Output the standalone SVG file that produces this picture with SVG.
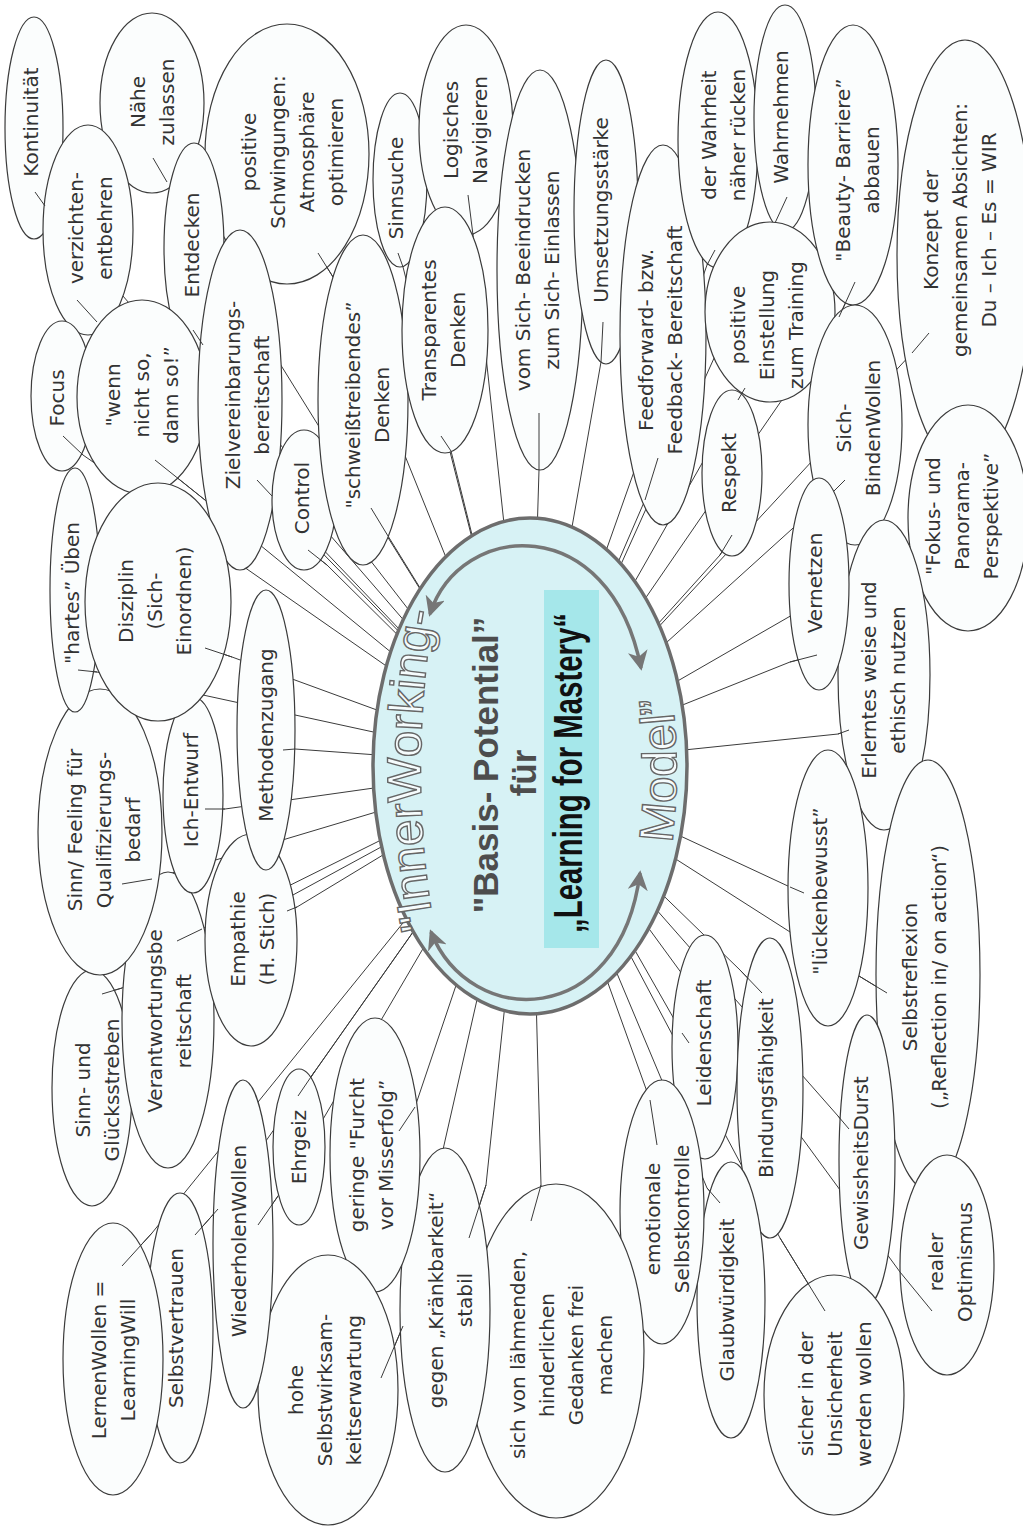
<svg xmlns="http://www.w3.org/2000/svg" width="1023" height="1531" viewBox="0 0 1023 1531">
<defs>
<style>
.n ellipse{fill:#fbfdfd;stroke:#3b3b3b;stroke-width:1.2}
.n text{font-family:"DejaVu Sans","Noto Sans",sans-serif;font-size:20px;fill:#333;text-anchor:middle}
#connectors polyline{stroke:#3b3b3b;stroke-width:1;fill:none}
#connector-ends line{stroke:#3b3b3b;stroke-width:1}
.hub{fill:#d7f2f5;stroke:#6d6d6d;stroke-width:3.5}
.outline{font-family:"Liberation Sans",Arial,sans-serif;font-size:48px;fill:#f6fcfd;stroke:#666;stroke-width:1.4;text-anchor:middle}
.bold{font-family:"Liberation Sans",Arial,sans-serif;font-weight:bold;text-anchor:middle}
.arrow{fill:none;stroke:#767676;stroke-width:3.5;marker-start:url(#head);marker-end:url(#head)}
</style>
<marker id="head" viewBox="0 0 14 14" refX="12" refY="7" markerWidth="20" markerHeight="20" markerUnits="userSpaceOnUse" orient="auto-start-reverse">
<path d="M0,0 L14,7 L0,14 L4,7 Z" fill="#767676"/>
</marker>
<path id="arcL" d="M 440,955 A 112,330 0 0,1 440,585" fill="none"/>
<path id="arcR" d="M 662,900 A 146,300 0 0,0 662,640" fill="none"/>
</defs>
<rect width="1023" height="1531" fill="#ffffff"/>

<!-- connectors: each runs from inside its node to the hub centre -->
<g id="connectors">
<polyline points="35,192 45,206 530,766"/>
<polyline points="153,158 167,182 530,766"/>
<polyline points="318,253 333,277 530,766"/>
<polyline points="77,300 97,322 530,766"/>
<polyline points="193,330 203,345 530,766"/>
<polyline points="63,436 83,455 530,766"/>
<polyline points="155,460 205,500 530,766"/>
<polyline points="257,480 272,496 530,766"/>
<polyline points="308,550 327,565 530,766"/>
<polyline points="371,508 388,536 530,766"/>
<polyline points="398,253 403,267 530,766"/>
<polyline points="468,195 473,235 530,766"/>
<polyline points="441,436 451,451 530,766"/>
<polyline points="539,413 539,470 530,766"/>
<polyline points="603,322 601,362 530,766"/>
<polyline points="658,458 645,500 530,766"/>
<polyline points="715,250 707,265 530,766"/>
<polyline points="787,197 775,223 530,766"/>
<polyline points="745,388 738,400 530,766"/>
<polyline points="855,282 839,317 530,766"/>
<polyline points="929,333 912,353 530,766"/>
<polyline points="845,480 834,491 530,766"/>
<polyline points="732,535 720,555 530,766"/>
<polyline points="912,545 905,550 530,766"/>
<polyline points="817,655 790,662 530,766"/>
<polyline points="849,730 838,734 530,766"/>
<polyline points="804,893 790,887 530,766"/>
<polyline points="887,993 859,976 530,766"/>
<polyline points="689,1043 682,1033 530,766"/>
<polyline points="762,993 740,970 530,766"/>
<polyline points="849,1129 838,1116 530,766"/>
<polyline points="932,1311 900,1272 530,766"/>
<polyline points="825,1311 780,1238 530,766"/>
<polyline points="720,1203 707,1188 530,766"/>
<polyline points="657,1145 650,1100 530,766"/>
<polyline points="531,1221 541,1185 530,766"/>
<polyline points="469,1238 486,1185 530,766"/>
<polyline points="399,1131 415,1107 530,766"/>
<polyline points="381,1378 403,1326 530,766"/>
<polyline points="298,1096 315,1071 530,766"/>
<polyline points="258,1225 278,1196 530,766"/>
<polyline points="195,1235 218,1209 530,766"/>
<polyline points="122,1266 152,1233 530,766"/>
<polyline points="102,994 122,988 530,766"/>
<polyline points="177,941 202,929 530,766"/>
<polyline points="122,884 152,879 530,766"/>
<polyline points="205,809 225,809 530,766"/>
<polyline points="287,911 297,907 530,766"/>
<polyline points="283,750 295,749 530,766"/>
<polyline points="205,648 232,657 530,766"/>
<polyline points="78,670 97,672 530,766"/>
</g>

<!-- hub -->
<g id="hub">
<ellipse class="hub" cx="530" cy="766" rx="157" ry="248"/>
<rect x="544" y="590" width="55" height="358" fill="#a5e7ea"/>
<text class="outline"><textPath href="#arcL" startOffset="50%">"InnerWorking-</textPath></text>
<text class="outline"><textPath href="#arcR" startOffset="50%">Model”</textPath></text>
<text class="bold" font-size="35" fill="#4d4d4d" transform="translate(498,765) rotate(-90)">"Basis- Potential”</text>
<text class="bold" font-size="35" fill="#4d4d4d" transform="translate(536,773) rotate(-90)">für</text>
<text class="bold" font-size="40" fill="#111" transform="translate(582,773) rotate(-90)" textLength="320" lengthAdjust="spacingAndGlyphs">„Learning for Mastery“</text>
<path class="arrow" d="M 430,614 C 460,520 610,510 641,668"/>
<path class="arrow" d="M 431,932 C 470,1030 620,1030 640,873"/>
</g>

<!-- nodes -->
<g id="kontinuitaet" class="n"><ellipse cx="34" cy="128" rx="29" ry="111"/><text transform="translate(31,122) rotate(-90)"><tspan x="0" y="7">Kontinuität</tspan></text></g>
<g id="naehe" class="n"><ellipse cx="152" cy="103" rx="52" ry="90"/><text transform="translate(152,102) rotate(-90)"><tspan x="0" y="-7.5">Nähe</tspan><tspan x="0" y="21.5">zulassen</tspan></text></g>
<g id="schwingungen" class="n"><ellipse cx="287" cy="154" rx="82" ry="130"/><text transform="translate(292,152) rotate(-90)"><tspan x="0" y="-36.5">positive</tspan><tspan x="0" y="-7.5">Schwingungen:</tspan><tspan x="0" y="21.5">Atmosphäre</tspan><tspan x="0" y="50.5">optimieren</tspan></text></g>
<g id="verzichten" class="n"><ellipse cx="88" cy="230" rx="45" ry="105"/><text transform="translate(90,228) rotate(-90)"><tspan x="0" y="-7.5">verzichten-</tspan><tspan x="0" y="21.5">entbehren</tspan></text></g>
<g id="entdecken" class="n"><ellipse cx="194" cy="248" rx="30" ry="105"/><text transform="translate(192,245) rotate(-90)"><tspan x="0" y="7">Entdecken</tspan></text></g>
<g id="focus" class="n"><ellipse cx="62" cy="396" rx="31" ry="75"/><text transform="translate(57,398) rotate(-90)"><tspan x="0" y="7">Focus</tspan></text></g>
<g id="wenn" class="n"><ellipse cx="142" cy="397" rx="65" ry="97"/><text transform="translate(142,395) rotate(-90)"><tspan x="0" y="-22">"wenn</tspan><tspan x="0" y="7">nicht so,</tspan><tspan x="0" y="36">dann so!”</tspan></text></g>
<g id="ziel" class="n"><ellipse cx="240" cy="400" rx="42" ry="170"/><text transform="translate(247,395) rotate(-90)"><tspan x="0" y="-7.5">Zielvereinbarungs-</tspan><tspan x="0" y="21.5">bereitschaft</tspan></text></g>
<g id="control" class="n"><ellipse cx="304" cy="500" rx="32" ry="70"/><text transform="translate(302,498) rotate(-90)"><tspan x="0" y="7">Control</tspan></text></g>
<g id="schweiss" class="n"><ellipse cx="363" cy="400" rx="45" ry="165"/><text transform="translate(367,405) rotate(-90)"><tspan x="0" y="-7.5">"schweißtreibendes”</tspan><tspan x="0" y="21.5">Denken</tspan></text></g>
<g id="sinnsuche" class="n"><ellipse cx="400" cy="180" rx="27" ry="87"/><text transform="translate(396,188) rotate(-90)"><tspan x="0" y="7">Sinnsuche</tspan></text></g>
<g id="logisches" class="n"><ellipse cx="466" cy="130" rx="47" ry="105"/><text transform="translate(465,130) rotate(-90)"><tspan x="0" y="-7.5">Logisches</tspan><tspan x="0" y="21.5">Navigieren</tspan></text></g>
<g id="transparentes" class="n"><ellipse cx="445" cy="330" rx="43" ry="123"/><text transform="translate(443,330) rotate(-90)"><tspan x="0" y="-7.5">Transparentes</tspan><tspan x="0" y="21.5">Denken</tspan></text></g>
<g id="vomsich" class="n"><ellipse cx="540" cy="270" rx="43" ry="200"/><text transform="translate(537,270) rotate(-90)"><tspan x="0" y="-7.5">vom Sich- Beeindrucken</tspan><tspan x="0" y="21.5">zum Sich- Einlassen</tspan></text></g>
<g id="umsetzung" class="n"><ellipse cx="606" cy="212" rx="32" ry="152"/><text transform="translate(601,210) rotate(-90)"><tspan x="0" y="7">Umsetzungsstärke</tspan></text></g>
<g id="feedforward" class="n"><ellipse cx="663" cy="335" rx="43" ry="190"/><text transform="translate(660,340) rotate(-90)"><tspan x="0" y="-7.5">Feedforward- bzw.</tspan><tspan x="0" y="21.5">Feedback- Bereitschaft</tspan></text></g>
<g id="wahrheit" class="n"><ellipse cx="718" cy="140" rx="40" ry="128"/><text transform="translate(723,135) rotate(-90)"><tspan x="0" y="-7.5">der Wahrheit</tspan><tspan x="0" y="21.5">näher rücken</tspan></text></g>
<g id="wahrnehmen" class="n"><ellipse cx="785" cy="118" rx="31" ry="113"/><text transform="translate(781,117) rotate(-90)"><tspan x="0" y="7">Wahrnehmen</tspan></text></g>
<g id="einstellung" class="n"><ellipse cx="770" cy="312" rx="65" ry="90"/><text transform="translate(767,325) rotate(-90)"><tspan x="0" y="-22">positive</tspan><tspan x="0" y="7">Einstellung</tspan><tspan x="0" y="36">zum Training</tspan></text></g>
<g id="beauty" class="n"><ellipse cx="853" cy="165" rx="45" ry="140"/><text transform="translate(857,170) rotate(-90)"><tspan x="0" y="-7.5">"Beauty- Barriere”</tspan><tspan x="0" y="21.5">abbauen</tspan></text></g>
<g id="konzept" class="n"><ellipse cx="965" cy="255" rx="68" ry="215"/><text transform="translate(960,230) rotate(-90)"><tspan x="0" y="-22">Konzept der</tspan><tspan x="0" y="7">gemeinsamen Absichten:</tspan><tspan x="0" y="36">Du – Ich – Es = WIR</tspan></text></g>
<g id="sichbinden" class="n"><ellipse cx="855" cy="425" rx="47" ry="120"/><text transform="translate(858,428) rotate(-90)"><tspan x="0" y="-7.5">Sich-</tspan><tspan x="0" y="21.5">BindenWollen</tspan></text></g>
<g id="respekt" class="n"><ellipse cx="732" cy="473" rx="30" ry="83"/><text transform="translate(729,473) rotate(-90)"><tspan x="0" y="7">Respekt</tspan></text></g>
<g id="fokus" class="n"><ellipse cx="968" cy="518" rx="60" ry="113"/><text transform="translate(962,516) rotate(-90)"><tspan x="0" y="-22">"Fokus- und</tspan><tspan x="0" y="7">Panorama-</tspan><tspan x="0" y="36">Perspektive”</tspan></text></g>
<g id="erlerntes" class="n"><ellipse cx="884" cy="675" rx="46" ry="155"/><text transform="translate(883,680) rotate(-90)"><tspan x="0" y="-7.5">Erlerntes weise und</tspan><tspan x="0" y="21.5">ethisch nutzen</tspan></text></g>
<g id="vernetzen" class="n"><ellipse cx="819" cy="584" rx="30" ry="106"/><text transform="translate(815,583) rotate(-90)"><tspan x="0" y="7">Vernetzen</tspan></text></g>
<g id="lueckenbewusst" class="n"><ellipse cx="828" cy="888" rx="40" ry="138"/><text transform="translate(820,891) rotate(-90)"><tspan x="0" y="7">"lückenbewusst”</tspan></text></g>
<g id="selbstreflexion" class="n"><ellipse cx="928" cy="975" rx="52" ry="215"/><text transform="translate(924,977) rotate(-90)"><tspan x="0" y="-7.5">Selbstreflexion</tspan><tspan x="0" y="21.5">(„Reflection in/ on action“)</tspan></text></g>
<g id="leidenschaft" class="n"><ellipse cx="705" cy="1047" rx="33" ry="112"/><text transform="translate(704,1043) rotate(-90)"><tspan x="0" y="7">Leidenschaft</tspan></text></g>
<g id="bindung" class="n"><ellipse cx="770" cy="1088" rx="33" ry="150"/><text transform="translate(766,1088) rotate(-90)"><tspan x="0" y="7">Bindungsfähigkeit</tspan></text></g>
<g id="gewissheit" class="n"><ellipse cx="867" cy="1160" rx="28" ry="145"/><text transform="translate(861,1163) rotate(-90)"><tspan x="0" y="7">GewissheitsDurst</tspan></text></g>
<g id="optimismus" class="n"><ellipse cx="947" cy="1265" rx="47" ry="110"/><text transform="translate(950,1262) rotate(-90)"><tspan x="0" y="-7.5">realer</tspan><tspan x="0" y="21.5">Optimismus</tspan></text></g>
<g id="sicher" class="n"><ellipse cx="834" cy="1395" rx="70" ry="120"/><text transform="translate(835,1394) rotate(-90)"><tspan x="0" y="-22">sicher in der</tspan><tspan x="0" y="7">Unsicherheit</tspan><tspan x="0" y="36">werden wollen</tspan></text></g>
<g id="glaub" class="n"><ellipse cx="731" cy="1300" rx="34" ry="138"/><text transform="translate(727,1300) rotate(-90)"><tspan x="0" y="7">Glaubwürdigkeit</tspan></text></g>
<g id="emotionale" class="n"><ellipse cx="662" cy="1212" rx="42" ry="132"/><text transform="translate(667,1219) rotate(-90)"><tspan x="0" y="-7.5">emotionale</tspan><tspan x="0" y="21.5">Selbstkontrolle</tspan></text></g>
<g id="laehmend" class="n"><ellipse cx="556" cy="1351" rx="88" ry="167"/><text transform="translate(561,1355) rotate(-90)"><tspan x="0" y="-36.5">sich von lähmenden,</tspan><tspan x="0" y="-7.5">hinderlichen</tspan><tspan x="0" y="21.5">Gedanken frei</tspan><tspan x="0" y="50.5">machen</tspan></text></g>
<g id="kraenk" class="n"><ellipse cx="445" cy="1310" rx="45" ry="162"/><text transform="translate(450,1300) rotate(-90)"><tspan x="0" y="-7.5">gegen „Kränkbarkeit“</tspan><tspan x="0" y="21.5">stabil</tspan></text></g>
<g id="furcht" class="n"><ellipse cx="375" cy="1155" rx="45" ry="137"/><text transform="translate(371,1155) rotate(-90)"><tspan x="0" y="-7.5">geringe "Furcht</tspan><tspan x="0" y="21.5">vor Misserfolg”</tspan></text></g>
<g id="hohe" class="n"><ellipse cx="328" cy="1390" rx="70" ry="135"/><text transform="translate(325,1390) rotate(-90)"><tspan x="0" y="-22">hohe</tspan><tspan x="0" y="7">Selbstwirksam-</tspan><tspan x="0" y="36">keitserwartung</tspan></text></g>
<g id="ehrgeiz" class="n"><ellipse cx="299" cy="1147" rx="26" ry="78"/><text transform="translate(299,1147) rotate(-90)"><tspan x="0" y="7">Ehrgeiz</tspan></text></g>
<g id="wiederholen" class="n"><ellipse cx="243" cy="1244" rx="30" ry="164"/><text transform="translate(239,1241) rotate(-90)"><tspan x="0" y="7">WiederholenWollen</tspan></text></g>
<g id="selbstvertrauen" class="n"><ellipse cx="180" cy="1328" rx="33" ry="135"/><text transform="translate(176,1328) rotate(-90)"><tspan x="0" y="7">Selbstvertrauen</tspan></text></g>
<g id="lernenwollen" class="n"><ellipse cx="113" cy="1359" rx="50" ry="136"/><text transform="translate(113,1360) rotate(-90)"><tspan x="0" y="-7.5">LernenWollen =</tspan><tspan x="0" y="21.5">LearningWill</tspan></text></g>
<g id="gluecks" class="n"><ellipse cx="92" cy="1088" rx="40" ry="118"/><text transform="translate(97,1090) rotate(-90)"><tspan x="0" y="-7.5">Sinn- und</tspan><tspan x="0" y="21.5">Glücksstreben</tspan></text></g>
<g id="verantwortung" class="n"><ellipse cx="168" cy="1020" rx="46" ry="148"/><text transform="translate(169,1021) rotate(-90)"><tspan x="0" y="-7.5">Verantwortungsbe</tspan><tspan x="0" y="21.5">reitschaft</tspan></text></g>
<g id="sinnfeeling" class="n"><ellipse cx="100" cy="832" rx="62" ry="143"/><text transform="translate(104,830) rotate(-90)"><tspan x="0" y="-22">Sinn/ Feeling für</tspan><tspan x="0" y="7">Qualifizierungs-</tspan><tspan x="0" y="36">bedarf</tspan></text></g>
<g id="ichentwurf" class="n"><ellipse cx="193" cy="795" rx="30" ry="98"/><text transform="translate(191,790) rotate(-90)"><tspan x="0" y="7">Ich-Entwurf</tspan></text></g>
<g id="empathie" class="n"><ellipse cx="251" cy="940" rx="46" ry="106"/><text transform="translate(252,939) rotate(-90)"><tspan x="0" y="-7.5">Empathie</tspan><tspan x="0" y="21.5">(H. Stich)</tspan></text></g>
<g id="methoden" class="n"><ellipse cx="266" cy="730" rx="29" ry="140"/><text transform="translate(266,735) rotate(-90)"><tspan x="0" y="7">Methodenzugang</tspan></text></g>
<g id="hartes" class="n"><ellipse cx="75" cy="590" rx="25" ry="122"/><text transform="translate(72,593) rotate(-90)"><tspan x="0" y="7">"hartes” Üben</tspan></text></g>
<g id="disziplin" class="n"><ellipse cx="158" cy="602" rx="73" ry="119"/><text transform="translate(155,601) rotate(-90)"><tspan x="0" y="-22">Disziplin</tspan><tspan x="0" y="7">(Sich-</tspan><tspan x="0" y="36">Einordnen)</tspan></text></g>

<!-- the start of each connector, shown inside its own node -->
<g id="connector-ends">
<line x1="35" y1="192" x2="45" y2="206"/>
<line x1="153" y1="158" x2="167" y2="182"/>
<line x1="318" y1="253" x2="333" y2="277"/>
<line x1="77" y1="300" x2="97" y2="322"/>
<line x1="193" y1="330" x2="203" y2="345"/>
<line x1="63" y1="436" x2="83" y2="455"/>
<line x1="155" y1="460" x2="205" y2="500"/>
<line x1="257" y1="480" x2="272" y2="496"/>
<line x1="308" y1="550" x2="327" y2="565"/>
<line x1="371" y1="508" x2="388" y2="536"/>
<line x1="398" y1="253" x2="403" y2="267"/>
<line x1="468" y1="195" x2="473" y2="235"/>
<line x1="441" y1="436" x2="451" y2="451"/>
<line x1="539" y1="413" x2="539" y2="470"/>
<line x1="603" y1="322" x2="601" y2="362"/>
<line x1="658" y1="458" x2="645" y2="500"/>
<line x1="715" y1="250" x2="707" y2="265"/>
<line x1="787" y1="197" x2="775" y2="223"/>
<line x1="745" y1="388" x2="738" y2="400"/>
<line x1="855" y1="282" x2="839" y2="317"/>
<line x1="929" y1="333" x2="912" y2="353"/>
<line x1="845" y1="480" x2="834" y2="491"/>
<line x1="732" y1="535" x2="720" y2="555"/>
<line x1="817" y1="655" x2="790" y2="662"/>
<line x1="849" y1="730" x2="838" y2="734"/>
<line x1="804" y1="893" x2="790" y2="887"/>
<line x1="887" y1="993" x2="859" y2="976"/>
<line x1="689" y1="1043" x2="682" y2="1033"/>
<line x1="762" y1="993" x2="740" y2="970"/>
<line x1="849" y1="1129" x2="838" y2="1116"/>
<line x1="932" y1="1311" x2="900" y2="1272"/>
<line x1="825" y1="1311" x2="780" y2="1238"/>
<line x1="720" y1="1203" x2="707" y2="1188"/>
<line x1="657" y1="1145" x2="650" y2="1100"/>
<line x1="531" y1="1221" x2="541" y2="1185"/>
<line x1="469" y1="1238" x2="486" y2="1185"/>
<line x1="399" y1="1131" x2="415" y2="1107"/>
<line x1="381" y1="1378" x2="403" y2="1326"/>
<line x1="298" y1="1096" x2="315" y2="1071"/>
<line x1="258" y1="1225" x2="278" y2="1196"/>
<line x1="195" y1="1235" x2="218" y2="1209"/>
<line x1="122" y1="1266" x2="152" y2="1233"/>
<line x1="102" y1="994" x2="122" y2="988"/>
<line x1="177" y1="941" x2="202" y2="929"/>
<line x1="122" y1="884" x2="152" y2="879"/>
<line x1="205" y1="809" x2="225" y2="809"/>
<line x1="287" y1="911" x2="297" y2="907"/>
<line x1="283" y1="750" x2="295" y2="749"/>
<line x1="205" y1="648" x2="232" y2="657"/>
<line x1="78" y1="670" x2="97" y2="672"/>
</g>
</svg>
